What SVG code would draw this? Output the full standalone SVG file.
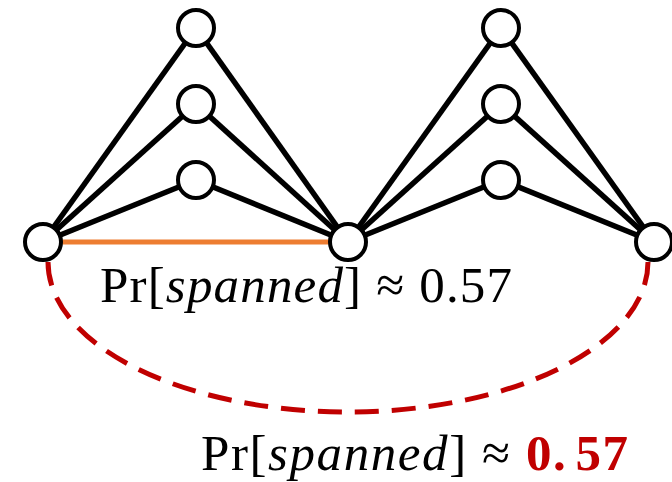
<svg xmlns="http://www.w3.org/2000/svg" width="672" height="482" viewBox="0 0 672 482">
<style>
.e{stroke:#000;stroke-width:5.5;fill:none}
.n{fill:#fff;stroke:#000;stroke-width:4}
.t{font-family:"Liberation Serif","DejaVu Serif",serif;font-size:51px;fill:#000}
.i{font-style:italic}
.b{font-weight:bold;fill:#C00000}
</style>
<rect width="672" height="482" fill="#fff"/>
<g id="connectors">
<line class="e" x1="43" y1="242" x2="196" y2="28"/>
<line class="e" x1="43" y1="242" x2="196" y2="104"/>
<line class="e" x1="43" y1="242" x2="196" y2="180"/>
<line class="e" x1="348" y1="242" x2="196" y2="28"/>
<line class="e" x1="348" y1="242" x2="196" y2="104"/>
<line class="e" x1="348" y1="242" x2="196" y2="180"/>
<line class="e" x1="348" y1="242" x2="501" y2="28"/>
<line class="e" x1="348" y1="242" x2="501" y2="104"/>
<line class="e" x1="348" y1="242" x2="501" y2="180"/>
<line class="e" x1="654" y1="242" x2="501" y2="28"/>
<line class="e" x1="654" y1="242" x2="501" y2="104"/>
<line class="e" x1="654" y1="242" x2="501" y2="180"/>
<line x1="60" y1="242" x2="331" y2="242" stroke="#ED7D31" stroke-width="5"/>
<path d="M48,262 A300,150 0 0 0 648,262" fill="none" stroke="#C00000" stroke-width="5" stroke-dasharray="24,13"/>
</g>
<g id="n1"><circle class="n" cx="43" cy="242" r="18"/></g>
<g id="n2"><circle class="n" cx="348" cy="242" r="18"/></g>
<g id="n3"><circle class="n" cx="654" cy="242" r="18"/></g>
<g id="a1"><circle class="n" cx="196" cy="28" r="18"/></g>
<g id="a2"><circle class="n" cx="196" cy="104" r="18"/></g>
<g id="a3"><circle class="n" cx="196" cy="180" r="18"/></g>
<g id="b1"><circle class="n" cx="501" cy="28" r="18"/></g>
<g id="b2"><circle class="n" cx="501" cy="104" r="18"/></g>
<g id="b3"><circle class="n" cx="501" cy="180" r="18"/></g>
<g id="label1"><text class="t" x="100" y="302" textLength="412" lengthAdjust="spacing">Pr[<tspan class="i">spanned</tspan>] ≈ 0.57</text></g>
<g id="label2"><text class="t" x="201" y="470" textLength="427" lengthAdjust="spacing">Pr[<tspan class="i">spanned</tspan>] ≈ <tspan class="b">0.</tspan><tspan class="b" dx="8">57</tspan></text></g>
</svg>
